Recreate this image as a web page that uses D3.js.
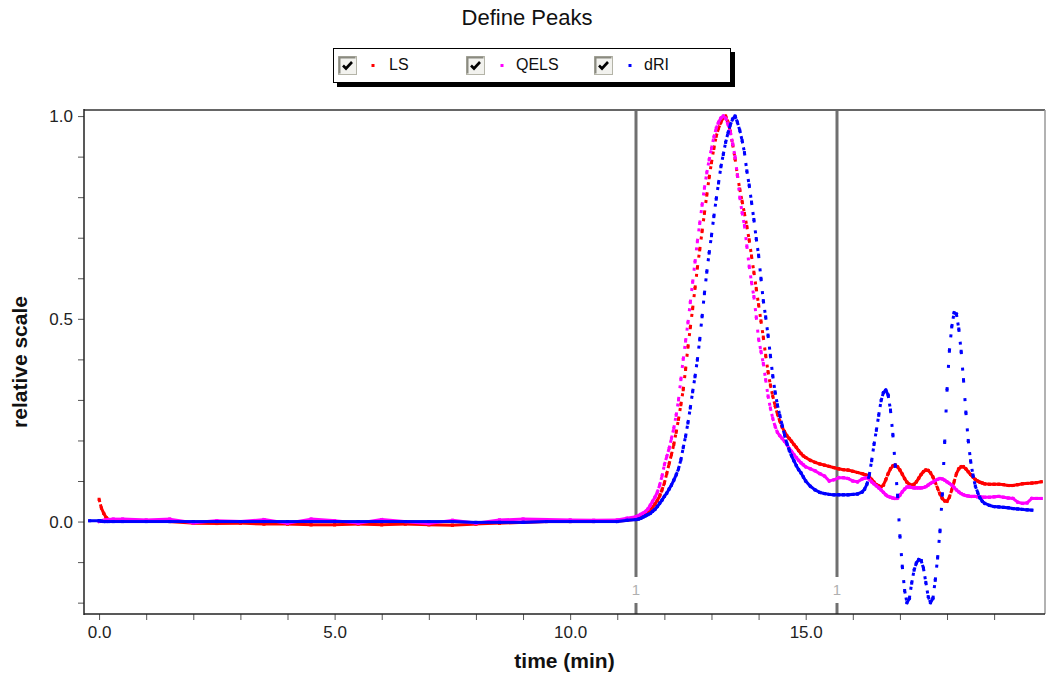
<!DOCTYPE html>
<html><head><meta charset="utf-8">
<script src="https://cdn.jsdelivr.net/npm/d3@7"></script>
<style>
html,body{margin:0;padding:0;background:#fff;}
svg{display:block;font-family:"Liberation Sans",Arial,sans-serif;}
</style>
</head><body>
<svg id="chart" width="1047" height="680"></svg>
<script>
// ---------------- DATA ----------------
const chartTitle = "Define Peaks";
const seriesNames = ["LS", "QELS", "dRI"];
const seriesColors = ["#ff0000", "#ff00ff", "#0000ff"];
const xLabel = "time (min)";
const yLabel = "relative scale";

const xTickValues = [0,1,2,3,4,5,6,7,8,9,10,11,12,13,14,15,16,17,18,19];
const xTickLabeled = [0,5,10,15];
const yTickValues = [-0.2,-0.1,0.0,0.1,0.2,0.3,0.4,0.5,0.6,0.7,0.8,0.9,1.0];
const yTickLabeled = [0.0,0.5,1.0];

const markerTimes = [11.39, 15.67];
const markerLabels = ["1", "1"];

// time (min)
const time = [
  -0.2, 0.0, 0.05, 0.1, 0.15, 0.2, 0.3, 0.5, 1.0, 1.5,
  2.0, 2.5, 3.0, 3.5, 4.0, 4.5, 5.0, 5.5, 6.0, 6.5,
  7.0, 7.5, 8.0, 8.5, 9.0, 9.5, 10.0, 10.5, 11.0, 11.2,
  11.40, 11.45, 11.50, 11.55, 11.60, 11.65, 11.70, 11.75, 11.80, 11.85,
  11.90, 11.95, 12.00, 12.05, 12.10, 12.15, 12.20, 12.25, 12.30, 12.35,
  12.40, 12.45, 12.50, 12.55, 12.60, 12.65, 12.70, 12.75, 12.80, 12.85,
  12.90, 12.95, 13.00, 13.05, 13.10, 13.15, 13.20, 13.25, 13.30, 13.35,
  13.40, 13.45, 13.50, 13.55, 13.60, 13.65, 13.70, 13.75, 13.80, 13.85,
  13.90, 13.95, 14.00, 14.05, 14.10, 14.15, 14.20, 14.25, 14.30, 14.35,
  14.40, 14.45, 14.50, 14.55, 14.60, 14.65, 14.70, 14.75, 14.80, 14.85,
  14.90, 14.95, 15.00,
  15.1, 15.2, 15.3, 15.4, 15.5, 15.6, 15.7, 15.8, 15.9, 16.0, 16.1, 16.2,
  16.25, 16.30, 16.35, 16.40, 16.45, 16.50, 16.55, 16.60, 16.65, 16.70,
  16.75, 16.80, 16.85, 16.90, 16.95, 17.00, 17.05, 17.10, 17.15, 17.20,
  17.25, 17.30, 17.35, 17.40, 17.45, 17.50, 17.55, 17.60, 17.65, 17.70,
  17.75, 17.80, 17.85, 17.90, 17.95, 18.00, 18.05, 18.10, 18.15, 18.20,
  18.25, 18.30, 18.35, 18.40, 18.45, 18.50, 18.55, 18.60, 18.65, 18.70,
  18.75, 18.80,
  18.9, 19.0, 19.1, 19.2, 19.3, 19.4, 19.5, 19.6, 19.7, 19.8, 19.9, 20.0
];

// LS (red)
const ls = [
  null, 0.055, 0.033, 0.020, 0.010, 0.005, 0.003, 0.003, 0.002, 0.000,
  -0.004, -0.005, -0.004, -0.006, -0.006, -0.008, -0.008, -0.006, -0.008, -0.006,
  -0.008, -0.009, -0.006, -0.004, -0.002, 0.000, 0.000, 0.000, 0.001, 0.003,
  0.006, 0.009, 0.012, 0.015, 0.019, 0.023, 0.028, 0.035, 0.043, 0.052,
  0.063, 0.078, 0.095, 0.118, 0.142, 0.165, 0.190, 0.220, 0.252, 0.288,
  0.325, 0.375, 0.430, 0.478, 0.525, 0.575, 0.625, 0.670, 0.715, 0.760,
  0.805, 0.848, 0.885, 0.920, 0.950, 0.970, 0.985, 0.996, 1.000, 0.985,
  0.962, 0.930, 0.895, 0.855, 0.820, 0.790, 0.760, 0.728, 0.695, 0.655,
  0.615, 0.575, 0.535, 0.495, 0.455, 0.410, 0.370, 0.337, 0.310, 0.286,
  0.265, 0.248, 0.233, 0.222, 0.212, 0.205, 0.198, 0.190, 0.183, 0.175,
  0.168, 0.162, 0.158,
  0.151, 0.146, 0.142, 0.139, 0.136, 0.133, 0.130, 0.128, 0.127, 0.124, 0.121, 0.118,
  0.116, 0.114, 0.110, 0.104, 0.097, 0.091, 0.088, 0.086, 0.090, 0.103,
  0.118, 0.130, 0.137, 0.139, 0.135, 0.127, 0.117, 0.106, 0.097, 0.092,
  0.090, 0.092, 0.098, 0.107, 0.116, 0.123, 0.127, 0.126, 0.120, 0.110,
  0.097, 0.082, 0.068, 0.057, 0.051, 0.050, 0.060, 0.078, 0.098, 0.118,
  0.130, 0.135, 0.135, 0.130, 0.123, 0.116, 0.110, 0.104, 0.100, 0.097,
  0.095, 0.093,
  0.092, 0.092, 0.092, 0.091, 0.089, 0.089, 0.091, 0.093, 0.094, 0.095, 0.096, 0.098
];

// QELS (magenta)
const qels = [
  null, 0.000, 0.002, 0.003, 0.004, 0.005, 0.006, 0.006, 0.004, 0.006,
  -0.003, 0.002, 0.000, 0.005, -0.004, 0.006, 0.002, -0.004, 0.005, 0.000,
  -0.005, 0.003, -0.004, 0.004, 0.006, 0.005, 0.004, 0.003, 0.004, 0.008,
  0.012, 0.015, 0.018, 0.021, 0.025, 0.031, 0.040, 0.050, 0.060, 0.072,
  0.090, 0.112, 0.140, 0.160, 0.180, 0.205, 0.230, 0.262, 0.300, 0.350,
  0.400, 0.445, 0.490, 0.540, 0.590, 0.640, 0.690, 0.735, 0.780, 0.822,
  0.860, 0.892, 0.920, 0.948, 0.970, 0.985, 0.995, 1.000, 0.995, 0.980,
  0.960, 0.932, 0.900, 0.855, 0.800, 0.762, 0.730, 0.680, 0.630, 0.590,
  0.555, 0.505, 0.450, 0.420, 0.390, 0.350, 0.310, 0.280, 0.255, 0.235,
  0.220, 0.212, 0.205, 0.198, 0.190, 0.180, 0.173, 0.165, 0.158, 0.151,
  0.145, 0.140, 0.135,
  0.130, 0.125, 0.118, 0.112, 0.100, 0.103, 0.108, 0.108, 0.106, 0.100, 0.098, 0.105,
  0.107, 0.108, 0.104, 0.098, 0.093, 0.088, 0.083, 0.078, 0.072, 0.066,
  0.062, 0.060, 0.058, 0.057, 0.058, 0.065, 0.073, 0.080, 0.085, 0.085,
  0.084, 0.083, 0.083, 0.083, 0.083, 0.084, 0.086, 0.090, 0.094, 0.097,
  0.101, 0.104, 0.106, 0.105, 0.102, 0.098, 0.094, 0.090, 0.084, 0.078,
  0.073, 0.069, 0.066, 0.064, 0.063, 0.062, 0.062, 0.062, 0.061, 0.061,
  0.060, 0.060,
  0.060, 0.061, 0.062, 0.060, 0.058, 0.057, 0.048, 0.045, 0.046, 0.057, 0.057, 0.057
];

// dRI (blue)
const dri = [
  0.002, 0.002, 0.001, 0.000, 0.000, 0.000, 0.000, 0.000, 0.000, 0.000,
  0.000, 0.000, 0.000, 0.000, 0.000, 0.000, 0.000, 0.000, 0.000, 0.000,
  0.000, 0.000, -0.002, -0.002, -0.002, 0.000, 0.000, 0.000, 0.000, 0.003,
  0.005, 0.006, 0.008, 0.011, 0.014, 0.017, 0.020, 0.025, 0.030, 0.037,
  0.045, 0.053, 0.062, 0.070, 0.080, 0.090, 0.102, 0.115, 0.130, 0.152,
  0.182, 0.210, 0.243, 0.280, 0.320, 0.357, 0.398, 0.448, 0.505, 0.562,
  0.615, 0.662, 0.705, 0.752, 0.795, 0.835, 0.875, 0.905, 0.935, 0.958,
  0.978, 0.993, 1.000, 0.985, 0.965, 0.940, 0.910, 0.865, 0.830, 0.788,
  0.745, 0.698, 0.657, 0.600, 0.545, 0.505, 0.460, 0.410, 0.360, 0.320,
  0.288, 0.262, 0.238, 0.214, 0.193, 0.176, 0.162, 0.150, 0.138, 0.128,
  0.120, 0.110, 0.100,
  0.087, 0.078, 0.072, 0.069, 0.067, 0.066, 0.066, 0.066, 0.066, 0.067, 0.068, 0.073,
  0.080, 0.092, 0.115, 0.150, 0.190, 0.225, 0.262, 0.298, 0.318, 0.324,
  0.312, 0.275, 0.215, 0.140, 0.065, -0.035, -0.110, -0.170, -0.200, -0.190,
  -0.152, -0.120, -0.102, -0.094, -0.096, -0.115, -0.150, -0.185, -0.200, -0.190,
  -0.145, -0.090, -0.025, 0.065, 0.195, 0.324, 0.420, 0.480, 0.515, 0.512,
  0.475, 0.420, 0.350, 0.270, 0.200, 0.150, 0.115, 0.088, 0.072, 0.058,
  0.050, 0.045,
  0.040, 0.037, 0.036, 0.035, 0.034, 0.032, 0.031, 0.030, 0.029, 0.028, null, null
];

// ---------------- LAYOUT ----------------
const svg = d3.select("#chart");
const plotL = 84, plotR = 1045, plotT = 110, plotB = 614;
const x = d3.scaleLinear().domain([-0.32, 20.08]).range([plotL, plotR]);
const y = d3.scaleLinear().domain([-0.228, 1.015]).range([plotB, plotT]);

svg.append("rect").attr("width", 1047).attr("height", 680).attr("fill", "#fff");

// title
svg.append("text").attr("x", 527).attr("y", 19).attr("text-anchor", "middle")
  .attr("dominant-baseline", "middle").attr("font-size", 22).attr("fill", "#111")
  .text(chartTitle);

// legend
const lg = svg.append("g");
lg.append("rect").attr("x", 337).attr("y", 52).attr("width", 398).attr("height", 35).attr("fill", "#000");
lg.append("rect").attr("x", 333.5).attr("y", 48.5).attr("width", 397).attr("height", 34)
  .attr("fill", "#fff").attr("stroke", "#000").attr("stroke-width", 1);
const legendBoxX = [338, 466, 594];
const legendDotX = [373, 502, 630];
const legendTextX = [389, 516, 644];
seriesNames.forEach((name, i) => {
  const bx = legendBoxX[i], by = 56;
  lg.append("rect").attr("x", bx + 0.5).attr("y", by + 0.5).attr("width", 18).attr("height", 18)
    .attr("fill", "#f2f2ee").attr("stroke", "#b4b4a8").attr("stroke-width", 1);
  lg.append("path").attr("d", `M${bx+1.5},${by+17.5}V${by+1.5}H${bx+17.5}`)
    .attr("fill", "none").attr("stroke", "#8a8a80").attr("stroke-width", 2);
  lg.append("path").attr("d", `M${bx+5},${by+9.5}L${bx+8},${by+12.5}L${bx+14},${by+6}`)
    .attr("fill", "none").attr("stroke", "#000").attr("stroke-width", 2.6);
  lg.append("rect").attr("x", legendDotX[i] - 1.5).attr("y", 64).attr("width", 3).attr("height", 3)
    .attr("fill", seriesColors[i]);
  lg.append("text").attr("x", legendTextX[i]).attr("y", 66).attr("dominant-baseline", "middle")
    .attr("font-size", 16).attr("fill", "#111").text(name);
});

// clip
svg.append("clipPath").attr("id", "plotclip").append("rect")
  .attr("x", plotL).attr("y", plotT).attr("width", plotR - plotL).attr("height", plotB - plotT);

// marker lines
const mg = svg.append("g");
markerTimes.forEach((t, i) => {
  const mx = Math.round(x(t));
  mg.append("line").attr("x1", mx).attr("x2", mx).attr("y1", plotT).attr("y2", 577)
    .attr("stroke", "#707070").attr("stroke-width", 3);
  mg.append("line").attr("x1", mx).attr("x2", mx).attr("y1", 603).attr("y2", plotB)
    .attr("stroke", "#707070").attr("stroke-width", 3);
  mg.append("text").attr("x", mx).attr("y", 591).attr("text-anchor", "middle")
    .attr("dominant-baseline", "middle").attr("font-size", 15).attr("fill", "#b0b0b0")
    .text(markerLabels[i]);
});

// series: detector samples every ~1.35 px in x; steep stretches therefore read as dotted
const samplePx = 1.35;
const plot = svg.append("g").attr("clip-path", "url(#plotclip)");
function drawSeries(values, color) {
  const pts = time.map((t, i) => [t, values[i]]).filter(d => d[1] !== null);
  const g = plot.append("g");
  for (let i = 1; i < pts.length; i++) {
    const x0 = x(pts[i-1][0]), y0 = y(pts[i-1][1]), x1 = x(pts[i][0]), y1 = y(pts[i][1]);
    const s = Math.abs((y1 - y0) / (x1 - x0));
    const period = samplePx * Math.sqrt(1 + s * s);
    const seg = g.append("line").attr("x1", x0).attr("y1", y0).attr("x2", x1).attr("y2", y1)
      .attr("stroke", color).attr("stroke-width", 3);
    if (period > 3.4) {
      seg.attr("stroke-dasharray", `3 ${(period - 3).toFixed(2)}`);
    } else {
      seg.attr("stroke-linecap", "square");
    }
  }
  g.selectAll("rect").data(pts).join("rect")
    .attr("x", d => x(d[0]) - 1.5).attr("y", d => y(d[1]) - 1.5)
    .attr("width", 3).attr("height", 3).attr("fill", color);
}
drawSeries(ls, seriesColors[0]);
drawSeries(qels, seriesColors[1]);
drawSeries(dri, seriesColors[2]);

// axes
const fmt = d3.format(".1f");
const xAxis = d3.axisBottom(x).tickValues(xTickValues).tickSize(6).tickPadding(6)
  .tickFormat(d => xTickLabeled.includes(d) ? fmt(d) : "");
const gx = svg.append("g").attr("transform", `translate(0,${plotB})`).call(xAxis);
gx.select(".domain").remove();
gx.selectAll(".tick line").attr("stroke", "#555");
gx.selectAll(".tick text").attr("font-size", 17).attr("fill", "#222")
  .attr("font-family", '"Liberation Sans",Arial,sans-serif');

const yAxis = d3.axisLeft(y).tickValues(yTickValues).tickSize(6).tickPadding(5)
  .tickFormat(d => yTickLabeled.some(v => Math.abs(v - d) < 1e-9) ? fmt(d) : "");
const gy = svg.append("g").attr("transform", `translate(${plotL},0)`).call(yAxis);
gy.select(".domain").remove();
gy.selectAll(".tick line").attr("stroke", "#555");
gy.selectAll(".tick text").attr("font-size", 17).attr("fill", "#222")
  .attr("font-family", '"Liberation Sans",Arial,sans-serif');

// frame
const fr = svg.append("g").attr("fill", "none");
fr.append("line").attr("x1", plotL).attr("x2", plotR).attr("y1", plotT).attr("y2", plotT)
  .attr("stroke", "#666").attr("stroke-width", 2);
fr.append("line").attr("x1", plotR).attr("x2", plotR).attr("y1", plotT).attr("y2", plotB)
  .attr("stroke", "#999").attr("stroke-width", 1.5);
fr.append("line").attr("x1", plotL).attr("x2", plotL).attr("y1", plotT - 1).attr("y2", plotB + 1)
  .attr("stroke", "#222").attr("stroke-width", 1.5);
fr.append("line").attr("x1", plotL).attr("x2", plotR).attr("y1", plotB).attr("y2", plotB)
  .attr("stroke", "#222").attr("stroke-width", 1.5);

// axis titles
svg.append("text").attr("x", (plotL + plotR) / 2).attr("y", 662).attr("text-anchor", "middle")
  .attr("dominant-baseline", "middle").attr("font-size", 21).attr("font-weight", "bold")
  .attr("fill", "#111").text(xLabel);
svg.append("text").attr("transform", `translate(21,${(plotT + plotB) / 2}) rotate(-90)`)
  .attr("text-anchor", "middle").attr("dominant-baseline", "middle")
  .attr("font-size", 21).attr("font-weight", "bold").attr("fill", "#111").text(yLabel);
</script>
</body></html>
